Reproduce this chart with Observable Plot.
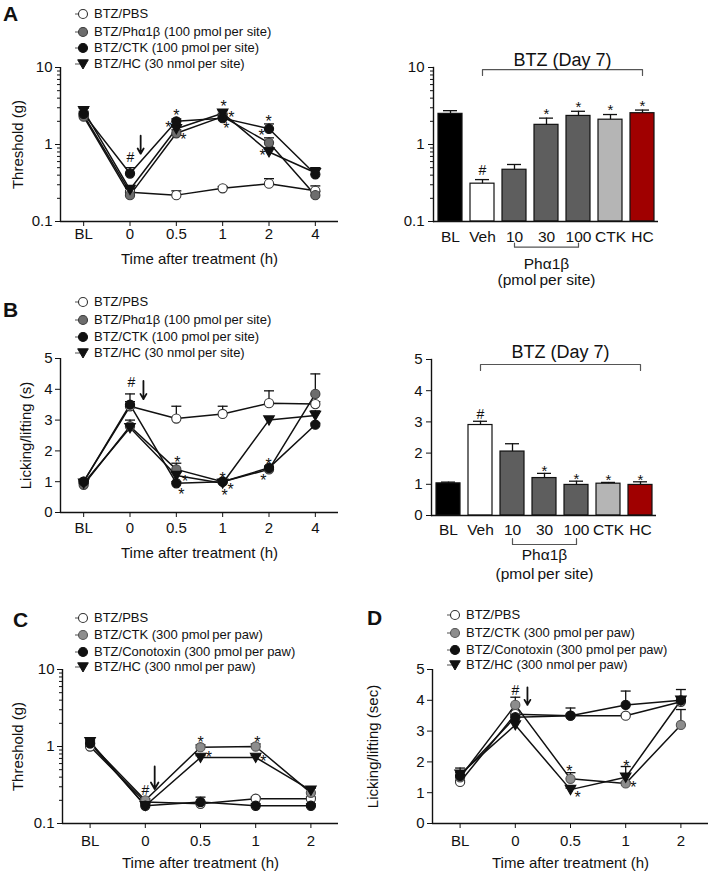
<!DOCTYPE html>
<html><head><meta charset="utf-8">
<script src="https://cdn.jsdelivr.net/npm/d3@7"></script>
<script src="https://cdn.jsdelivr.net/npm/@observablehq/plot@0.6"></script>
<style>
body{margin:0;background:#fff;}
#fig{position:relative;width:709px;height:871px;overflow:hidden;background:#fff;font-family:"Liberation Sans",Arial,sans-serif;color:#111}
.letter{position:absolute;font-weight:bold;font-size:21px;line-height:21px}
.lrow{position:absolute;height:16px;line-height:16px;font-size:13px;white-space:nowrap}
.lrow svg{vertical-align:top}
</style></head><body><div id="fig"></div><script>
// ---------- categories ----------
const timeAB = ["BL","0","0.5","1","2","4"];
const timeCD = ["BL","0","0.5","1","2"];
const barCats = ["BL","Veh","10","30","100","CTK","HC"];
const logMajor = [0.1, 1, 10];
const linMajor = [0, 1, 2, 3, 4, 5];

// ---------- Panel A (threshold, g) ----------
const aPBS    = [2.4, 0.24, 0.22, 0.27, 0.31, 0.25];
const aPBSErr = [2.6, 0.27, 0.25, 0.285, 0.36, 0.29];
const aPha    = [2.3, 0.22, 1.4, 2.3, 1.05, 0.22];
const aPhaErr = [2.5, 0.25, 1.55, 2.55, 1.22, 0.245];
const aCTK    = [2.5, 0.42, 2.0, 2.2, 1.6, 0.41];
const aCTKErr = [2.7, 0.5, 2.15, 2.45, 1.85, 0.5];
const aHC     = [2.75, 0.26, 1.6, 2.55, 0.8, 0.43];
const aHCErr  = [2.95, 0.29, 1.75, 2.75, 0.9, 0.5];
const aStars = [{x:1.83,y:1.87},{x:2.0,y:2.68},{x:2.15,y:1.31},{x:3.02,y:3.51},{x:3.19,y:2.53},{x:3.08,y:1.82},{x:3.99,y:2.24},{x:3.84,y:1.47},{x:3.86,y:0.81}];
const aHash = [{x:1.01,y:0.68}];
const aArrow = [{x:1.23,y1:1.3,y2:0.76}];

const aBar    = [2.5, 0.31, 0.47, 1.8, 2.35, 2.1, 2.55];
const aBarErr = [2.75, 0.35, 0.55, 2.2, 2.7, 2.45, 2.8];
const barFills = ["#000000","#ffffff","#5e5e5e","#5e5e5e","#5e5e5e","#b5b5b5","#a00000"];
const aBarMarks = ["","#","","*","*","*","*"];
const aTopBracket = [{c:"Veh",v:7.9},{c:"Veh",v:9.4},{c:"HC",v:9.4},{c:"HC",v:7.9}];
const aTopLabel = [{c:"30",v:12.3,t:"BTZ (Day 7)"}];
const aBotBracket = [{c:"10",v:0.0525},{c:"10",v:0.0464},{c:"100",v:0.0464},{c:"100",v:0.0525}];
const aBotLabels = [{c:"30",v:0.0282,t:"Phα1β"},{c:"30",v:0.0172,t:"(pmol\u2009per site)"}];

// ---------- Panel B (licking/lifting, s) ----------
const bPBS    = [1.0, 3.45, 3.05, 3.2, 3.55, 3.52];
const bPBSErr = [1.05, 3.85, 3.45, 3.45, 3.95, 3.6];
const bPha    = [0.9, 2.8, 1.4, 1.0, 1.4, 3.85];
const bPhaErr = [0.95, 3.0, 1.6, 1.05, 1.5, 4.5];
const bCTK    = [1.0, 3.5, 0.95, 1.0, 1.45, 2.85];
const bCTKErr = [1.05, 3.6, 1.0, 1.05, 1.5, 2.9];
const bHC     = [0.95, 2.75, 1.2, 0.95, 3.0, 3.15];
const bHCErr  = [1.0, 2.85, 1.3, 1.0, 3.1, 3.3];
const bStars = [{x:2.02,y:1.75},{x:2.19,y:1.14},{x:2.11,y:0.71},{x:3.0,y:1.23},{x:3.04,y:0.68},{x:3.17,y:0.88},{x:3.99,y:1.69},{x:3.88,y:1.17}];
const bHash = [{x:1.03,y:4.22}];
const bArrow = [{x:1.29,y1:4.27,y2:3.68}];

const bBar    = [1.03, 2.9, 2.05, 1.2, 0.98, 1.02, 0.98];
const bBarErr = [1.07, 3.02, 2.3, 1.35, 1.1, 1.06, 1.08];
const bBarMarks = ["","#","","*","*","*","*"];
const bTopBracket = [{c:"Veh",v:4.65},{c:"Veh",v:4.84},{c:"HC",v:4.84},{c:"HC",v:4.65}];
const bTopLabel = [{c:"30",v:5.22,t:"BTZ (Day 7)"}];
const bBotBracket = [{c:"10",v:-0.74},{c:"10",v:-0.93},{c:"100",v:-0.93},{c:"100",v:-0.74}];
const bBotLabels = [{c:"30",v:-1.28,t:"Phα1β"},{c:"30",v:-1.86,t:"(pmol\u2009per site)"}];

// ---------- Panel C (threshold, g) ----------
const cPBS     = [1.0, 0.19, 0.18, 0.21, 0.21];
const cPBSErr  = [1.05, 0.2, 0.19, 0.22, 0.22];
const cCTK     = [1.1, 0.2, 0.98, 1.0, 0.25];
const cCTKErr  = [1.2, 0.21, 1.05, 1.08, 0.29];
const cCono    = [1.1, 0.17, 0.19, 0.17, 0.17];
const cConoErr = [1.15, 0.18, 0.22, 0.18, 0.18];
const cHC      = [1.15, 0.17, 0.72, 0.72, 0.27];
const cHCErr   = [1.25, 0.18, 0.76, 0.76, 0.29];
const cStars = [{x:2.0,y:1.27},{x:2.15,y:0.81},{x:3.03,y:1.27},{x:3.14,y:0.72}];
const cHash = [{x:1.0,y:0.27}];
const cArrow = [{x:1.17,y1:0.55,y2:0.28}];

// ---------- Panel D (licking/lifting, sec) ----------
const dPBS     = [1.35, 3.55, 3.5, 3.5, 3.95];
const dPBSErr  = [1.4, 3.65, 3.55, 3.55, 4.0];
const dCTK     = [1.5, 3.85, 1.45, 1.3, 3.2];
const dCTKErr  = [1.55, 4.1, 1.65, 1.35, 3.7];
const dCono    = [1.55, 3.45, 3.5, 3.85, 4.0];
const dConoErr = [1.8, 3.55, 3.75, 4.3, 4.35];
const dHC      = [1.6, 3.2, 1.1, 1.5, 4.0];
const dHCErr   = [1.65, 3.3, 1.15, 1.85, 4.1];
const dStars = [{x:1.98,y:1.82},{x:2.13,y:0.97},{x:3.01,y:1.98},{x:3.14,y:1.3}];
const dHash = [{x:1.0,y:4.32}];
const dArrow = [{x:1.22,y1:4.42,y2:3.85}];

const legendAB = ["BTZ/PBS","BTZ/Phα1β (100 pmol\u2009per site)","BTZ/CTK (100 pmol\u2009per site)","BTZ/HC (30 nmol\u2009per site)"];
const legendCD = ["BTZ/PBS","BTZ/CTK (300 pmol\u2009per paw)","BTZ/Conotoxin (300 pmol\u2009per paw)","BTZ/HC (300 nmol\u2009per paw)"];

// ---------- styling ----------
const F = "'Liberation Sans', Arial, sans-serif";
const INK = "#111";
const STY = {
  open:  {fill:"#ffffff", stroke:"#333"},
  grey:  {fill:"#6d6d6d", stroke:"#3c3c3c"},
  light: {fill:"#8d8d8d", stroke:"#555"},
  black: {fill:"#111", stroke:"#111"},
  tri:   {fill:"#111", stroke:"#111"}
};
const capSym = {draw(ctx){ ctx.moveTo(-5,0); ctx.lineTo(5,0); }};
const triDown = {draw(ctx){ ctx.moveTo(-5.3,-4.2); ctx.lineTo(5.3,-4.2); ctx.lineTo(0,5); ctx.closePath(); }};
const fig = document.getElementById("fig");

function mount(svg, left, top){
  svg.style.position = "absolute";
  svg.style.left = left + "px";
  svg.style.top = top + "px";
  svg.style.overflow = "visible";
  svg.style.background = "transparent";
  fig.appendChild(svg);
}
function minorTicks(lo, hi){
  const out = [];
  for (let dec = lo; dec < hi; dec *= 10) for (let k = 2; k <= 9; k++) out.push(+(dec*k).toPrecision(3));
  return out;
}

function linePanel(p){
  const ml = p.ml, mr = 12, mt = 12, mb = 60;
  const n = p.cats.length;
  const rows = [];
  p.series.forEach(s => s.vals.forEach((v,i) => rows.push({s:s.kind, i, v, e:s.err[i]})));
  const errRows = rows.filter(d => d.e > d.v);
  const marks = [
    Plot.ruleY([p.yDomain[0]], {stroke:INK, strokeWidth:1.4}),
    Plot.ruleX([-0.5], {stroke:INK, strokeWidth:1.4}),
    Plot.axisY(p.majors, {tickSize:5, tickPadding:3, fontSize:15, tickFormat:d=>String(d), label:p.yLabel, labelAnchor:"center", labelOffset:p.yLabelOffset, labelArrow:false}),
  ];
  if (p.log) marks.push(Plot.axisY(minorTicks(p.yDomain[0], p.yDomain[1]), {tickSize:3, tickFormat:()=>"", label:null}));
  marks.push(
    Plot.axisX(d3.range(n), {tickSize:5, tickPadding:p.xPad, fontSize:15, tickFormat:i=>p.cats[i], label:"Time after treatment (h)", labelAnchor:"center", labelOffset:p.xLabelOffset, labelArrow:false}),
    Plot.line(rows, {x:"i", y:"v", z:"s", stroke:INK, strokeWidth:1.5}),
    Plot.ruleX(errRows, {x:"i", y1:"v", y2:"e", stroke:INK, strokeWidth:1.3}),
    Plot.dot(errRows, {x:"i", y:"e", symbol:capSym, stroke:INK, strokeWidth:1.3, fill:"none"})
  );
  p.series.forEach(s => {
    const st = STY[s.kind];
    marks.push(Plot.dot(rows.filter(d => d.s === s.kind), {x:"i", y:"v", r:4.6, symbol: s.kind === "tri" ? triDown : "circle", fill:st.fill, stroke:st.stroke, strokeWidth:1.1}));
  });
  marks.push(
    Plot.arrow(p.arrow, {x1:"x", x2:"x", y1:"y1", y2:"y2", stroke:INK, strokeWidth:1.8, headLength:8}),
    Plot.text(p.stars, {x:"x", y:"y", text:()=>"*", fontSize:16, dy:4, fill:INK}),
    Plot.text(p.hash, {x:"x", y:"y", text:()=>"#", fontSize:14, fill:INK})
  );
  const svg = Plot.plot({
    width: p.fx1 - p.fx0 + ml + mr, height: p.fy1 - p.fy0 + mt + mb,
    marginLeft: ml, marginRight: mr, marginTop: mt, marginBottom: mb,
    x: {type:"linear", domain:[-0.5, n - 0.5]},
    y: {type: p.log ? "log" : "linear", domain: p.yDomain},
    style: {fontFamily: F, fontSize: "15px", color: INK, background: "transparent", overflow: "visible"},
    marks
  });
  mount(svg, p.fx0 - ml, p.fy0 - mt);
}

function barPanel(p){
  const ml = 50, mr = 12, mt = 30, mb = 80;
  const rows = barCats.map((c,i) => ({c, v:p.vals[i], e:p.err[i], f:barFills[i], m:p.marks[i]}));
  const marks = [
    Plot.barY(rows, {x:"c", y1:p.yDomain[0], y2:"v", fill:"f", stroke:INK, strokeWidth:1.2}),
    Plot.ruleX(rows, {x:"c", y1:"v", y2:"e", stroke:INK, strokeWidth:1.3}),
    Plot.tickY(rows, {x:"c", y:"e", stroke:INK, strokeWidth:1.3, inset:5}),
    Plot.ruleY([p.yDomain[0]], {stroke:INK, strokeWidth:1.4}),
    Plot.frame({anchor:"left", stroke:INK, strokeWidth:1.4}),
    Plot.axisY(p.majors, {tickSize:5, tickPadding:4, fontSize:15, tickFormat:d=>String(d), label:null}),
  ];
  if (p.log) marks.push(Plot.axisY(minorTicks(p.yDomain[0], p.yDomain[1]), {tickSize:3, tickFormat:()=>"", label:null}));
  marks.push(
    Plot.axisX({tickSize:0, tickPadding:p.xPad, fontSize:15.5, label:null}),
    Plot.text(rows.filter(d => d.m === "*"), {x:"c", y:"e", text:"m", fontSize:15, dy:p.starDy, fill:INK}),
    Plot.text(rows.filter(d => d.m === "#"), {x:"c", y:"e", text:"m", fontSize:14, dy:p.hashDy, fill:INK}),
    Plot.line(p.topBracket, {x:"c", y:"v", stroke:"#555", strokeWidth:1.2}),
    Plot.text(p.topLabel, {x:"c", y:"v", text:"t", dx:16, fontSize:18, fill:INK}),
    Plot.line(p.botBracket, {x:"c", y:"v", stroke:"#555", strokeWidth:1.2}),
    Plot.text(p.botLabels, {x:"c", y:"v", text:"t", fontSize:15.5, fill:INK})
  );
  const svg = Plot.plot({
    width: p.fx1 - p.fx0 + ml + mr, height: p.fy1 - p.fy0 + mt + mb,
    marginLeft: ml, marginRight: mr, marginTop: mt, marginBottom: mb,
    x: {type:"band", domain: barCats, paddingInner:0.25, paddingOuter:0.125},
    y: {type: p.log ? "log" : "linear", domain: p.yDomain},
    color: {type:"identity"},
    style: {fontFamily: F, fontSize: "15px", color: INK, background: "transparent", overflow: "visible"},
    marks
  });
  mount(svg, p.fx0 - ml, p.fy0 - mt);
}

function markerSvg(kind){
  const st = STY[kind];
  if (kind === "tri") return `<path d="M6.7,3.8L17.3,3.8L12,13Z" fill="${st.fill}" stroke="${st.stroke}" stroke-width="1"/>`;
  return `<circle cx="12" cy="8" r="4.5" fill="${st.fill}" stroke="${st.stroke}" stroke-width="1.1"/>`;
}
function legend(labels, kinds, mx, ys){
  labels.forEach((lab, k) => {
    const row = document.createElement("div");
    row.className = "lrow";
    row.style.left = (mx - 12) + "px";
    row.style.top = (ys[k] - 8) + "px";
    row.innerHTML = `<svg width="18" height="16"><line x1="4" y1="8" x2="10" y2="8" stroke="#777" stroke-width="1.3"/>${markerSvg(kinds[k])}</svg><span style="margin-left:5px">${lab}</span>`;
    fig.appendChild(row);
  });
}
function letter(t, x, cy){
  const d = document.createElement("div");
  d.className = "letter"; d.textContent = t;
  d.style.left = x + "px"; d.style.top = (cy - 10.3) + "px";
  fig.appendChild(d);
}

// ---------- build ----------
linePanel({cats:timeAB, log:true, yDomain:[0.1,10], majors:logMajor, fx0:60, fx1:338, fy0:67, fy1:221, ml:62,
  yLabel:"Threshold (g)", yLabelOffset:48, xPad:2, xLabelOffset:42,
  series:[{kind:"open",vals:aPBS,err:aPBSErr},{kind:"grey",vals:aPha,err:aPhaErr},{kind:"black",vals:aCTK,err:aCTKErr},{kind:"tri",vals:aHC,err:aHCErr}],
  stars:aStars, hash:aHash, arrow:aArrow});
barPanel({log:true, yDomain:[0.1,10], majors:logMajor, fx0:433, fx1:658, fy0:67, fy1:221,
  vals:aBar, err:aBarErr, marks:aBarMarks, xPad:9, starDy:-4, hashDy:-9,
  topBracket:aTopBracket, topLabel:aTopLabel, botBracket:aBotBracket, botLabels:aBotLabels});

linePanel({cats:timeAB, log:false, yDomain:[0,5], majors:linMajor, fx0:60, fx1:338, fy0:358, fy1:512, ml:62,
  yLabel:"Licking/lifting (s)", yLabelOffset:40, xPad:5, xLabelOffset:45,
  series:[{kind:"open",vals:bPBS,err:bPBSErr},{kind:"grey",vals:bPha,err:bPhaErr},{kind:"black",vals:bCTK,err:bCTKErr},{kind:"tri",vals:bHC,err:bHCErr}],
  stars:bStars, hash:bHash, arrow:bArrow});
barPanel({log:false, yDomain:[0,5], majors:linMajor, fx0:431, fx1:656, fy0:359, fy1:515,
  vals:bBar, err:bBarErr, marks:bBarMarks, xPad:8, starDy:-2, hashDy:-7,
  topBracket:bTopBracket, topLabel:bTopLabel, botBracket:bBotBracket, botLabels:bBotLabels});

linePanel({cats:timeCD, log:true, yDomain:[0.1,10], majors:logMajor, fx0:62, fx1:338, fy0:669, fy1:823, ml:62,
  yLabel:"Threshold (g)", yLabelOffset:50, xPad:7, xLabelOffset:44,
  series:[{kind:"open",vals:cPBS,err:cPBSErr},{kind:"light",vals:cCTK,err:cCTKErr},{kind:"black",vals:cCono,err:cConoErr},{kind:"tri",vals:cHC,err:cHCErr}],
  stars:cStars, hash:cHash, arrow:cArrow});
linePanel({cats:timeCD, log:false, yDomain:[0,5], majors:linMajor, fx0:432, fx1:708, fy0:669, fy1:823, ml:72,
  yLabel:"Licking/lifting (sec)", yLabelOffset:65, xPad:7, xLabelOffset:44,
  series:[{kind:"open",vals:dPBS,err:dPBSErr},{kind:"light",vals:dCTK,err:dCTKErr},{kind:"black",vals:dCono,err:dConoErr},{kind:"tri",vals:dHC,err:dHCErr}],
  stars:dStars, hash:dHash, arrow:dArrow});

legend(legendAB, ["open","grey","black","tri"], 83, [14, 31.5, 48, 63.5]);
legend(legendAB, ["open","grey","black","tri"], 83, [302, 320, 337, 353]);
legend(legendCD, ["open","light","black","tri"], 83, [618, 635, 652, 667]);
legend(legendCD, ["open","light","black","tri"], 455, [615, 633, 650, 665]);

letter("A", 3, 13.7);
letter("B", 3, 309);
letter("C", 13, 619);
letter("D", 367, 617.5);
</script></body></html>
